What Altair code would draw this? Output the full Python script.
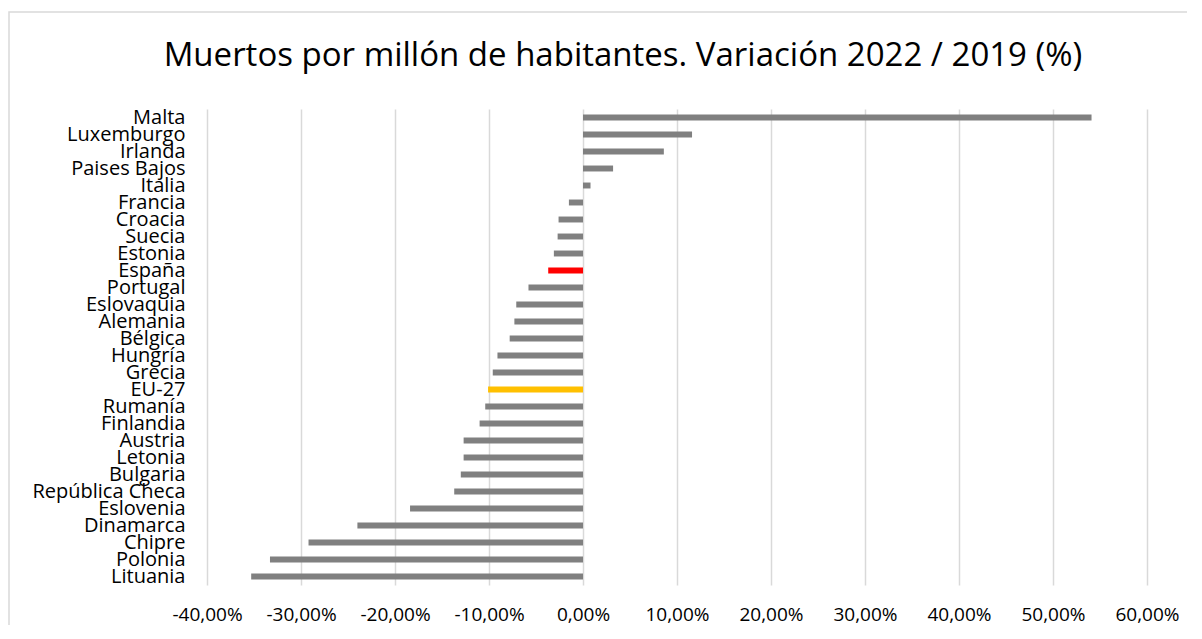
import altair as alt
import pandas as pd

countries = ["Malta", "Luxemburgo", "Irlanda", "Paises Bajos", "Italia", "Francia",
             "Croacia", "Suecia", "Estonia", "España", "Portugal", "Eslovaquia",
             "Alemania", "Bélgica", "Hungría", "Grecia", "EU-27", "Rumanía",
             "Finlandia", "Austria", "Letonia", "Bulgaria", "República Checa",
             "Eslovenia", "Dinamarca", "Chipre", "Polonia", "Lituania"]
values = [0.541, 0.116, 0.086, 0.032, 0.008, -0.015,
          -0.026, -0.027, -0.031, -0.037, -0.058, -0.071,
          -0.073, -0.078, -0.091, -0.096, -0.101, -0.104,
          -0.110, -0.127, -0.127, -0.130, -0.137,
          -0.184, -0.240, -0.292, -0.333, -0.353]
colors = ["#808080"] * len(countries)
colors[countries.index("España")] = "#ff0000"
colors[countries.index("EU-27")] = "#ffc000"
ticks = [-0.4, -0.3, -0.2, -0.1, 0.0, 0.1, 0.2, 0.3, 0.4, 0.5, 0.6]

df = pd.DataFrame({"pais": countries, "valor": values, "color": colors})

FONT = "Open Sans"

bars = alt.Chart(df).mark_bar().encode(
    x=alt.X("valor:Q",
            scale=alt.Scale(domain=[-0.4, 0.6], nice=False, zero=False),
            axis=alt.Axis(values=ticks, title=None, grid=True, gridColor="#d9d9d9",
                          gridWidth=1.5, ticks=False, domain=False,
                          labelExpr="replace(replace(format(datum.value, '.2%'), '.', ','), '\u2212', '-')",
                          labelFontSize=19, labelFont=FONT, labelColor="#000000",
                          labelPadding=20, labelOverlap=False, labelFlush=False)),
    y=alt.Y("pais:N", sort=countries,
            scale=alt.Scale(paddingInner=0.65, paddingOuter=0.325),
            axis=alt.Axis(title=None, ticks=False, domain=False, grid=False,
                          labelFontSize=20, labelFont=FONT, labelColor="#000000",
                          labelPadding=22, labelLimit=400, labelOverlap=False)),
    color=alt.Color("color:N", scale=None, legend=None),
)

border = alt.Chart(pd.DataFrame({"a": [0]})).mark_rect(
    fill=None, stroke="#d9d9d9", strokeWidth=1.5
).encode(
    x=alt.value(-198), x2=alt.value(2000),
    y=alt.value(-97), y2=alt.value(2000),
)

chart = alt.layer(bars, border).properties(
    width=940, height=476,
    autosize=alt.AutoSizeParams(type="none"),
    padding={"left": 199, "top": 101, "right": 40, "bottom": 40},
    title=alt.TitleParams(
        "Muertos por millón de habitantes. Variación 2022 / 2019 (%)",
        font=FONT, fontSize=33, fontWeight="normal", color="#000000",
        anchor="middle", frame="group", dx=-54, offset=-62,
    ),
).configure_view(stroke=None)

chart.save("out.html", embed_options={"renderer": "svg", "actions": False})
